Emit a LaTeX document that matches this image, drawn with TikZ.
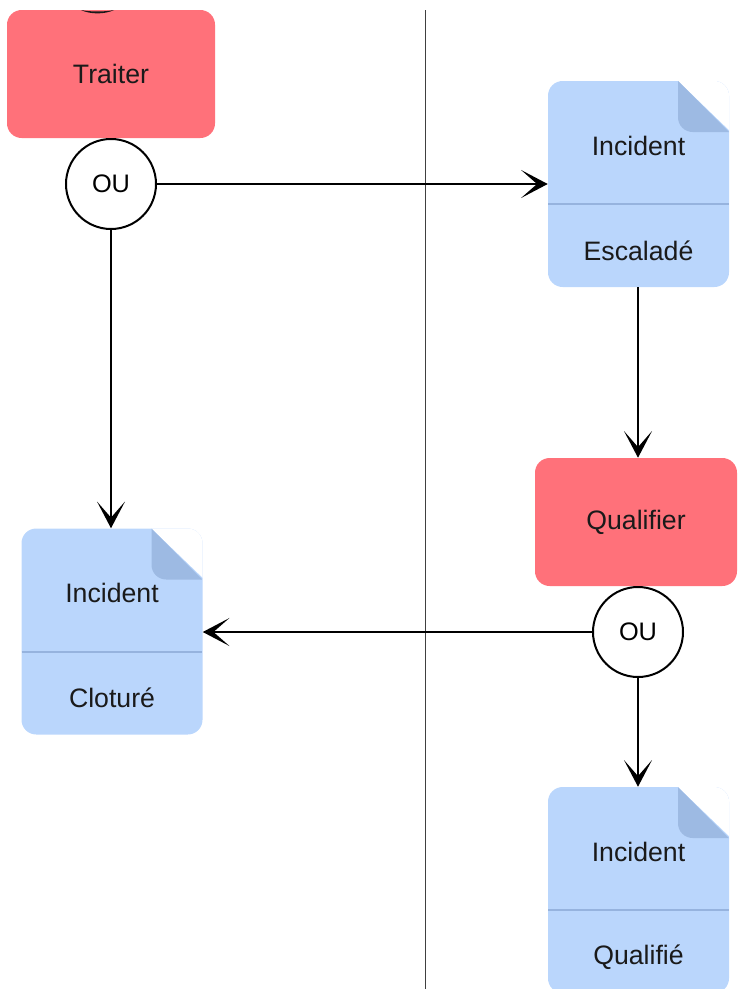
\documentclass[tikz,border=0pt]{standalone}
\usepackage{fontspec}
\setmainfont{Liberation Sans}
\usetikzlibrary{arrows.meta,calc,positioning}

\definecolor{actred}{RGB}{255,113,122}
\definecolor{docblue}{RGB}{186,214,252}
\definecolor{docfold}{RGB}{157,186,227}
\definecolor{docline}{RGB}{150,179,222}
\definecolor{inktext}{RGB}{26,26,26}

\tikzset{
  x=0.75pt, y=-0.75pt,
  action/.style={fill=actred, rounded corners=11pt, minimum height=96pt,
    inner sep=0pt, text=inktext, font=\fontsize{20}{24}\selectfont},
  orcircle/.style={circle, draw, line width=1.5pt, fill=white,
    minimum size=67.5pt, inner sep=0pt, font=\fontsize{19}{23}\selectfont},
  doc/.style={fill=docblue, rounded corners=11pt, minimum width=135.75pt,
    minimum height=154.5pt, inner sep=0pt,
    path picture={
      \coordinate (ne) at (path picture bounding box.north east);
      \coordinate (nw) at (path picture bounding box.north west);
      \fill[white, sharp corners] ($(ne)+(-51,0)$) -- ($(ne)+(2,-2)$) -- ($(ne)+(2,51)$) -- cycle;
      \fill[docfold, sharp corners] ($(ne)+(-51,0)$) [rounded corners=11pt] -- ($(ne)+(-51,51)$)
        [sharp corners] -- ($(ne)+(0,51)$) -- cycle;
      \draw[docline, line width=1.5pt, sharp corners] ($(nw)+(0,123)$) -- ($(ne)+(0,123)$);
    }},
  doctext/.style={text=inktext, font=\fontsize{20}{24}\selectfont},
  flow/.style={-{Stealth[length=20pt, width=21pt, inset=12pt]}, line width=1.5pt}
}

\begin{document}
\begin{tikzpicture}
  \useasboundingbox (0,0) rectangle (738,989);
  \clip (0,0) rectangle (738,989);

  % lane divider
  \coordinate (lanetop) at (425,10);
  \coordinate (lanebot) at (425,989);
  \draw[line width=0.75pt, black!75] (lanetop) -- (lanebot);

  % activities
  \node[action, minimum width=156pt] (traiter) at (111,74) {Traiter};
  \node[action, minimum width=151.5pt] (qualifier) at (636,522) {Qualifier};

  % bottom of the previous OU, cut by the top edge
  \coordinate (ou0l) at (81,10);
  \coordinate (ou0r) at (114,10);
  \fill[black!90] (ou0l) .. controls (90,14.5) and (105,14.5) .. (ou0r)
    .. controls (105,12) and (90,12) .. (ou0l) -- cycle;

  \node[orcircle] (ou1) at (111,184) {OU};
  \node[orcircle] (ou2) at (638,632) {OU};

  % incident states
  \node[doc] (esc) at (638.5,184) {};
  \node[doctext] (esc-a) at ($(esc.north)+(0,65)$) {Incident};
  \node[doctext] (esc-b) at ($(esc.north)+(0,170)$) {Escaladé};

  \node[doc] (clo) at (112,631.5) {};
  \node[doctext] (clo-a) at ($(clo.north)+(0,65)$) {Incident};
  \node[doctext] (clo-b) at ($(clo.north)+(0,170)$) {Cloturé};

  \node[doc] (qlf) at (638.5,890) {};
  \node[doctext] (qlf-a) at ($(qlf.north)+(0,65)$) {Incident};
  \node[doctext] (qlf-b) at ($(qlf.north)+(0,170)$) {Qualifié};

  % flows
  \draw[flow] (ou1) -- (ou1 -| esc.west);
  \draw[flow] (ou1) -- (ou1 |- clo.north);
  \draw[flow] (esc.south -| ou2) -- (qualifier.north -| ou2);
  \draw[flow] (ou2) -- (ou2 -| clo.east);
  \draw[flow] (ou2) -- (ou2 |- qlf.north);
\end{tikzpicture}
\end{document}
